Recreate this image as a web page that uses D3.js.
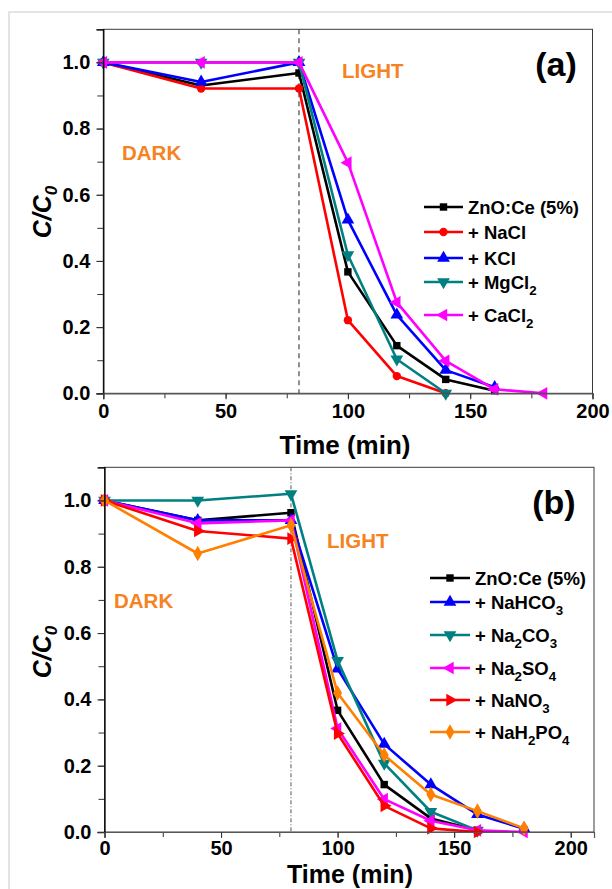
<!DOCTYPE html>
<html><head><meta charset="utf-8">
<script src="https://cdn.jsdelivr.net/npm/d3@7"></script>
<style>
body{margin:0;background:#fff}
svg{display:block}
text{font-family:"Liberation Sans",Arial,sans-serif;font-weight:bold}
</style>
</head><body><svg id="c" width="612" height="889"></svg>
<script>
// ---------- data ----------
const times = [0, 40, 80, 100, 120, 140, 160, 180];
const xTicksA = [0, 50, 100, 150, 200];
const xTicksB = [0, 50, 100, 150, 200];
const yTicks = [0.0, 0.2, 0.4, 0.6, 0.8, 1.0];

const labelsA = ["ZnO:Ce (5%)", "+ NaCl", "+ KCl", "+ MgCl_2", "+ CaCl_2"];
const a_ZnOCe = [1.0, 0.93, 0.968, 0.367, 0.144, 0.042, 0.008];
const a_NaCl  = [1.0, 0.921, 0.921, 0.221, 0.052, 0.0];
const a_KCl   = [1.0, 0.941, 1.0, 0.524, 0.237, 0.070, 0.018];
const a_MgCl2 = [1.0, 1.0, 1.0, 0.418, 0.103, 0.0];
const a_CaCl2 = [1.0, 1.0, 1.0, 0.697, 0.275, 0.098, 0.012, 0.0];

const labelsB = ["ZnO:Ce (5%)", "+ NaHCO_3", "+ Na_2CO_3", "+ Na_2SO_4", "+ NaNO_3", "+ NaH_2PO_4"];
const b_ZnOCe   = [1.0, 0.94, 0.963, 0.367, 0.143, 0.041, 0.005];
const b_NaHCO3  = [1.0, 0.94, 0.94, 0.492, 0.265, 0.143, 0.053, 0.01];
const b_Na2CO3  = [1.0, 1.0, 1.02, 0.517, 0.207, 0.061, 0.005];
const b_Na2SO4  = [1.0, 0.931, 0.94, 0.312, 0.099, 0.034, 0.005, 0.0];
const b_NaNO3   = [1.0, 0.908, 0.885, 0.297, 0.079, 0.011, 0.0];
const b_NaH2PO4 = [1.0, 0.84, 0.925, 0.419, 0.232, 0.113, 0.063, 0.011];

// ---------- styles ----------
const C = {black:"#000000", red:"#FF0000", blue:"#0000FF", teal:"#008080", magenta:"#FF00FF", orange:"#FF8000"};
const ORANGE_TXT = "#F5831F";

const seriesA = [
  {label:labelsA[0], v:a_ZnOCe, color:C.black,   sym:"square"},
  {label:labelsA[1], v:a_NaCl,  color:C.red,     sym:"circle"},
  {label:labelsA[2], v:a_KCl,   color:C.blue,    sym:"up"},
  {label:labelsA[3], v:a_MgCl2, color:C.teal,    sym:"down"},
  {label:labelsA[4], v:a_CaCl2, color:C.magenta, sym:"left"}
];
const seriesB = [
  {label:labelsB[0], v:b_ZnOCe,   color:C.black,   sym:"square"},
  {label:labelsB[1], v:b_NaHCO3,  color:C.blue,    sym:"up"},
  {label:labelsB[2], v:b_Na2CO3,  color:C.teal,    sym:"down"},
  {label:labelsB[3], v:b_Na2SO4,  color:C.magenta, sym:"left"},
  {label:labelsB[4], v:b_NaNO3,   color:C.red,     sym:"right"},
  {label:labelsB[5], v:b_NaH2PO4, color:C.orange,  sym:"diamond"}
];

const svg = d3.select("#c");

// outer light frame
svg.append("rect").attr("x",9).attr("y",12).attr("width",620).attr("height",900)
  .attr("fill","none").attr("stroke","#dcdcdc").attr("stroke-width",1.5);

function symPath(sym){
  const map = {square:[d3.symbolSquare,55,0], circle:[d3.symbolCircle,55,0], up:[d3.symbolTriangle,70,0],
    down:[d3.symbolTriangle,70,180], left:[d3.symbolTriangle,70,-90], right:[d3.symbolTriangle,70,90],
    diamond:[d3.symbolDiamond,70,0]};
  const m = map[sym];
  return {d:d3.symbol().type(m[0]).size(m[1])(), rot:m[2]};
}

function richText(sel, str, size){
  const parts = str.split(/(_\d)/).filter(s=>s.length);
  let sub = false;
  parts.forEach(p=>{
    if(p[0]==="_"){
      sel.append("tspan").attr("dy", 6).attr("font-size", size*0.72).text(p.slice(1));
      sub = true;
    } else {
      const t = sel.append("tspan").text(p);
      if(sub){ t.attr("dy",-6); sub=false; }
    }
  });
}

function panel(cfg){
  const x = d3.scaleLinear().domain(cfg.xDomain).range([cfg.left, cfg.right]);
  const y = d3.scaleLinear().domain([0, 1.1]).range([cfg.bottom, cfg.top]);
  const g = svg.append("g");

  // dashed light boundary
  g.append("line").attr("x1",x(80)).attr("x2",x(80)).attr("y1",cfg.top).attr("y2",cfg.bottom)
    .attr("stroke","#555").attr("stroke-width",cfg.dashW).attr("stroke-dasharray",cfg.dash);

  // series
  const line = d3.line().x((d,i)=>x(times[i])).y(d=>y(d));
  cfg.series.forEach(s=>{
    g.append("path").attr("d", line(s.v)).attr("fill","none").attr("stroke", s.color)
      .attr("stroke-width",2.6).attr("stroke-linejoin","round");
    const sp = symPath(s.sym);
    g.selectAll(null).data(s.v).enter().append("path").attr("d", sp.d)
      .attr("transform",(d,i)=>`translate(${x(times[i])},${y(d)}) rotate(${sp.rot})`)
      .attr("fill", s.color);
  });

  // frame
  g.append("rect").attr("x",cfg.left).attr("y",cfg.top).attr("width",cfg.right-cfg.left)
    .attr("height",cfg.bottom-cfg.top).attr("fill","none").attr("stroke","#3a3a3a").attr("stroke-width",1);

  // axes
  const yMinor = d3.range(0, 1.11, 0.1);
  const yAxMinor = g.append("g").attr("transform",`translate(${cfg.left},0)`)
    .call(d3.axisLeft(y).tickValues(yMinor).tickSize(6).tickFormat(""));
  yAxMinor.select(".domain").remove();
  const yAx = g.append("g").attr("transform",`translate(${cfg.left},0)`)
    .call(d3.axisLeft(y).tickValues(yTicks).tickSize(7).tickPadding(6).tickFormat(d3.format(".1f")));
  yAx.select(".domain").attr("stroke","#000").attr("stroke-width",1.3);

  const xMinor = d3.range(0, cfg.xDomain[1]+0.1, 25);
  const xAxMinor = g.append("g").attr("transform",`translate(0,${cfg.bottom})`)
    .call(d3.axisBottom(x).tickValues(xMinor).tickSize(5).tickFormat(""));
  xAxMinor.select(".domain").remove();
  const xAx = g.append("g").attr("transform",`translate(0,${cfg.bottom})`)
    .call(d3.axisBottom(x).tickValues(cfg.xTicks).tickSize(6).tickPadding(cfg.xPad).tickFormat(d3.format("d")));
  xAx.select(".domain").attr("stroke","#555").attr("stroke-width",1.2);

  [yAx, xAx].forEach(a=>{
    a.selectAll("text").attr("font-size",20).attr("font-family","'Liberation Sans',Arial,sans-serif")
      .attr("font-weight","bold").attr("fill","#000");
  });
  g.selectAll(".tick line").attr("stroke","#333");

  // axis titles
  g.append("text").attr("x", cfg.xTitleX).attr("y", cfg.xTitleY).attr("text-anchor","middle")
    .attr("font-size",cfg.xTitleSize).text("Time (min)");
  const yt = g.append("text").attr("transform",`translate(51,${cfg.yTitleY}) rotate(-90)`)
    .attr("text-anchor","middle").attr("font-size",25).attr("font-style","italic");
  yt.append("tspan").text("C/C");
  yt.append("tspan").attr("font-size",17).attr("dy",6).text("0");

  // annotations
  g.append("text").attr("x",cfg.dark[0]).attr("y",cfg.dark[1]).attr("fill",ORANGE_TXT).attr("font-size",20.5).text("DARK");
  g.append("text").attr("x",cfg.light[0]).attr("y",cfg.light[1]).attr("fill",ORANGE_TXT).attr("font-size",20.5).text("LIGHT");
  g.append("text").attr("x",cfg.tag[0]).attr("y",cfg.tag[1]).attr("text-anchor","middle").attr("font-size",34).text(cfg.tagText);

  // legend
  cfg.series.forEach((s,i)=>{
    const ly = cfg.legY[i];
    g.append("line").attr("x1",cfg.legX[0]).attr("x2",cfg.legX[1]).attr("y1",ly).attr("y2",ly)
      .attr("stroke",s.color).attr("stroke-width",2.6);
    const sp = symPath(s.sym);
    g.append("path").attr("d",sp.d).attr("transform",`translate(${(cfg.legX[0]+cfg.legX[1])/2},${ly}) rotate(${sp.rot})`)
      .attr("fill",s.color);
    const t = g.append("text").attr("x",cfg.legX[1]+5).attr("y",ly+6.5).attr("font-size",18.5);
    richText(t, s.label, 18.5);
  });
}

panel({xDomain:[0,200], left:103.3, right:592.5, top:29.3, bottom:393.3, xTicks:xTicksA, xPad:5,
  series:seriesA, dash:"5,4", dashW:1.3, xTitleX:345, xTitleY:454, xTitleSize:26, yTitleY:212,
  dark:[122,160], light:[342,78], tag:[556,76], tagText:"(a)",
  legX:[424,463], legY:[207,232,258,282,315]});

panel({xDomain:[0,210], left:104.5, right:594, top:467.3, bottom:832, xTicks:xTicksB, xPad:3,
  series:seriesB, dash:"4,2,1,2", dashW:1, xTitleX:350, xTitleY:883, xTitleSize:25, yTitleY:652,
  dark:[114,608], light:[327,548], tag:[554,514], tagText:"(b)",
  legX:[430,470], legY:[578,602,635,668,700,732]});
</script>
</body></html>
